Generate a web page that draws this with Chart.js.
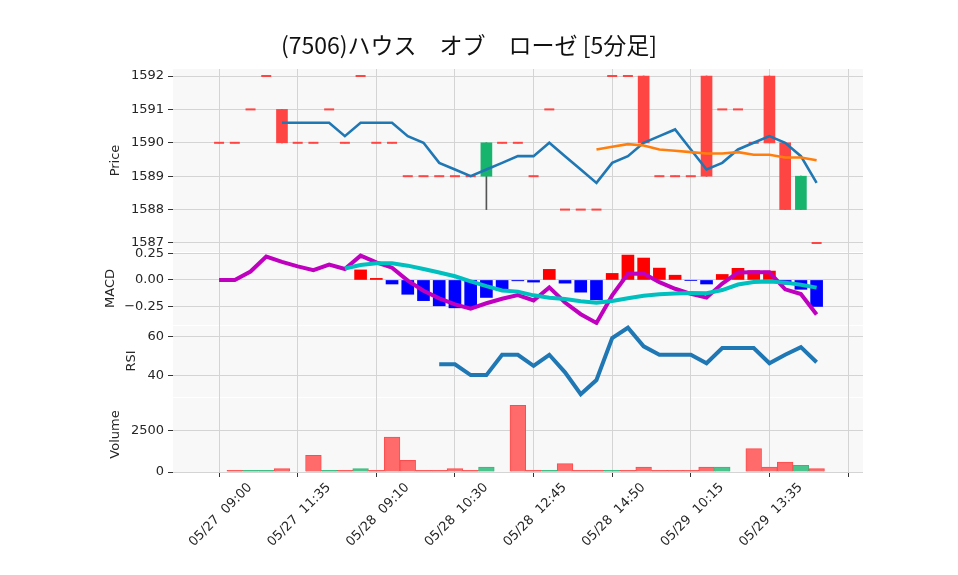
<!DOCTYPE html>
<html>
<head>
<meta charset="utf-8">
<script src="https://cdn.jsdelivr.net/npm/chart.js@4"></script>
<style>
  html, body { margin: 0; padding: 0; background: #fff; }
  #wrap { width: 958px; height: 575px; }
</style>
</head>
<body>
<div id="wrap"><canvas id="chart" width="958" height="575"></canvas></div>
<script>
const chartTitle = '(7506)ハウス　オブ　ローゼ [5分足]';

// x ticks (bar index) and their labels
const tickPositions = [0, 5, 10, 15, 20, 25, 30, 35, 40];
const tickLabels = ['05/27  09:00', '05/27  11:35', '05/28  09:10', '05/28  10:30',
  '05/28  12:45', '05/28  14:50', '05/29  10:15', '05/29  13:35', ''];

// 5-minute candles
const opens = [1590, 1590, 1591, 1592, 1591, 1590, 1590, 1591, 1590, 1592,
  1590, 1590, 1589, 1589, 1589, 1589, 1589, 1589, 1590, 1590,
  1589, 1591, 1588, 1588, 1588, 1592, 1592, 1592, 1589, 1589,
  1589, 1592, 1591, 1591, 1590, 1592, 1590, 1588, 1587];
const highs = [1590, 1590, 1591, 1592, 1591, 1590, 1590, 1591, 1590, 1592,
  1590, 1590, 1589, 1589, 1589, 1589, 1589, 1590, 1590, 1590,
  1589, 1591, 1588, 1588, 1588, 1592, 1592, 1592, 1589, 1589,
  1589, 1592, 1591, 1591, 1590, 1592, 1590, 1589, 1587];
const lows = [1590, 1590, 1591, 1592, 1590, 1590, 1590, 1591, 1590, 1592,
  1590, 1590, 1589, 1589, 1589, 1589, 1589, 1588, 1590, 1590,
  1589, 1591, 1588, 1588, 1588, 1592, 1592, 1590, 1589, 1589,
  1589, 1589, 1591, 1591, 1590, 1590, 1588, 1588, 1587];
const closes = [1590, 1590, 1591, 1592, 1590, 1590, 1590, 1591, 1590, 1592,
  1590, 1590, 1589, 1589, 1589, 1589, 1589, 1590, 1590, 1590,
  1589, 1591, 1588, 1588, 1588, 1592, 1592, 1590, 1589, 1589,
  1589, 1589, 1591, 1591, 1590, 1590, 1588, 1589, 1587];
const volumes = [0, 100, 100, 100, 200, 0, 1000, 100, 100, 200,
  100, 2100, 700, 100, 100, 200, 100, 300, 0, 4000,
  100, 100, 500, 100, 100, 100, 100, 300, 100, 100,
  100, 300, 300, 0, 1400, 300, 600, 400, 200];

// moving averages on the price panel
const ma5 = [null, null, null, null, 1590.6, 1590.6, 1590.6, 1590.6, 1590.2, 1590.6,
  1590.6, 1590.6, 1590.2, 1590.0, 1589.4, 1589.2, 1589.0, 1589.2, 1589.4, 1589.6,
  1589.6, 1590.0, 1589.6, 1589.2, 1588.8, 1589.4, 1589.6, 1590.0, 1590.2, 1590.4,
  1589.8, 1589.2, 1589.4, 1589.8, 1590.0, 1590.2, 1590.0, 1589.6, 1588.8];
const ma25 = [null, null, null, null, null, null, null, null, null, null,
  null, null, null, null, null, null, null, null, null, null,
  null, null, null, null, 1589.80, 1589.88, 1589.96, 1589.92, 1589.80, 1589.76,
  1589.72, 1589.68, 1589.68, 1589.72, 1589.64, 1589.64, 1589.56, 1589.56, 1589.48];

// MACD panel
const macdLine = [0, 0, 0.080, 0.221, 0.170, 0.128, 0.093, 0.145, 0.104, 0.230,
  0.167, 0.116, -0.006, -0.101, -0.174, -0.230, -0.270, -0.220, -0.177, -0.142,
  -0.193, -0.070, -0.213, -0.323, -0.405, -0.146, 0.059, 0.060, -0.021, -0.083,
  -0.131, -0.167, -0.034, 0.070, 0.072, 0.072, -0.088, -0.133, -0.326];
const signalLine = [null, null, null, null, null, null, null, null, 0.109, 0.141,
  0.157, 0.157, 0.135, 0.103, 0.071, 0.035, -0.013, -0.058, -0.099, -0.110,
  -0.145, -0.167, -0.180, -0.200, -0.215, -0.198, -0.172, -0.148, -0.135, -0.127,
  -0.122, -0.125, -0.095, -0.043, -0.020, -0.015, -0.025, -0.045, -0.072];
const macdHist = [null, null, null, null, null, null, null, null, null, 0.095,
  0.015, -0.038, -0.135, -0.195, -0.244, -0.263, -0.262, -0.165, -0.082, -0.008,
  -0.020, 0.100, -0.030, -0.115, -0.187, 0.062, 0.235, 0.207, 0.112, 0.045,
  -0.003, -0.038, 0.052, 0.110, 0.088, 0.084, -0.040, -0.088, -0.250];

// RSI panel
const rsi = [null, null, null, null, null, null, null, null, null, null,
  null, null, null, null, 45.8, 45.8, 40.3, 40.3, 50.6, 50.6,
  45.0, 50.6, 41.7, 30.6, 37.8, 59.1, 64.3, 54.9, 50.6, 50.6,
  50.6, 46.3, 54.0, 54.0, 54.0, 46.3, 50.6, 54.5, 46.8];

// y tick values per panel
const priceTicks = [1587, 1588, 1589, 1590, 1591, 1592];
const macdTicks = [-0.25, 0, 0.25];
const rsiTicks = [40, 60];
const volumeTicks = [0, 2500];

const UP = '#16b46c';
const DOWN = '#ff4444';
const tickFont = { family: 'DejaVu Sans', size: 13 };
const gridColor = '#d4d4d4';

const pts = arr => arr.map((v, i) => ({ x: i, y: v }));
const setTicks = list => scale => { scale.ticks = list.map(v => ({ value: v })); };

const bodyIdx = opens.map((o, i) => i).filter(i => opens[i] !== closes[i]);
const dojiIdx = opens.map((o, i) => i).filter(i => opens[i] === closes[i]);

function yAxis(weight, stackWeight, min, max, list, fmt) {
  return {
    type: 'linear', position: 'left', stack: 'panels', stackWeight, weight,
    min, max,
    afterBuildTicks: setTicks(list),
    afterFit: s => { s.width = 60; },
    ticks: { font: tickFont, color: '#262626', padding: 4, callback: fmt },
    grid: { color: gridColor, tickLength: 5, tickColor: '#333' },
    border: { display: false }
  };
}

const panelBg = {
  id: 'panelBg',
  beforeDraw(chart) {
    const { ctx, chartArea } = chart;
    ctx.save();
    ctx.fillStyle = '#f8f8f8';
    ['yPrice', 'yMacd', 'yRsi', 'yVol'].forEach((id, k) => {
      const s = chart.scales[id];
      const top = k === 0 ? s.top : s.top + 1;
      ctx.fillRect(chartArea.left, top, chartArea.right - chartArea.left, s.bottom - top);
    });
    ctx.restore();
  }
};

const texts = {
  id: 'texts',
  afterDraw(chart) {
    const { ctx } = chart;
    ctx.save();
    ctx.fillStyle = '#111';
    ctx.textAlign = 'center';
    ctx.textBaseline = 'middle';
    ctx.font = '23px "Noto Sans CJK JP"';
    ctx.fillText(chartTitle, 469, 45);

    ctx.font = '13px "DejaVu Sans"';
    ctx.fillStyle = '#262626';
    [['yPrice', 'Price', 116], ['yMacd', 'MACD', 111], ['yRsi', 'RSI', 132], ['yVol', 'Volume', 116]]
      .forEach(([id, label, x]) => {
        const s = chart.scales[id];
        ctx.save();
        ctx.translate(x, (s.top + s.bottom) / 2);
        ctx.rotate(-Math.PI / 2);
        ctx.fillText(label, 0, 0);
        ctx.restore();
      });
    ctx.restore();
  }
};

new Chart(document.getElementById('chart'), {
  data: {
    datasets: [
      // price panel
      {
        type: 'bar', yAxisID: 'yPrice', grouped: false, order: 10,
        data: lows.map((l, i) => ({ x: i, y: [l, highs[i]] })),
        backgroundColor: '#555', barThickness: 1
      },
      {
        type: 'bar', yAxisID: 'yPrice', grouped: false, order: 9,
        data: bodyIdx.map(i => ({ x: i, y: [opens[i], closes[i]] })),
        backgroundColor: bodyIdx.map(i => closes[i] > opens[i] ? UP : DOWN),
        barThickness: 11
      },
      {
        type: 'line', yAxisID: 'yPrice', order: 8, showLine: false,
        data: dojiIdx.map(i => ({ x: i, y: closes[i] })),
        pointStyle: 'line', pointRadius: 5, pointBorderWidth: 2,
        pointBorderColor: DOWN, pointBackgroundColor: DOWN
      },
      {
        type: 'line', yAxisID: 'yPrice', order: 2, data: pts(ma5),
        borderColor: '#1f77b4', borderWidth: 2.6, pointRadius: 0
      },
      {
        type: 'line', yAxisID: 'yPrice', order: 1, data: pts(ma25),
        borderColor: '#ff7f0e', borderWidth: 2.6, pointRadius: 0
      },
      // MACD panel
      {
        type: 'bar', yAxisID: 'yMacd', grouped: false, order: 7,
        data: pts(macdHist),
        backgroundColor: macdHist.map(v => v >= 0 ? '#ff0000' : '#0000ff'),
        barThickness: 12
      },
      {
        type: 'line', yAxisID: 'yMacd', order: 4, data: pts(macdLine),
        borderColor: '#bf00bf', borderWidth: 4, pointRadius: 0
      },
      {
        type: 'line', yAxisID: 'yMacd', order: 3, data: pts(signalLine),
        borderColor: '#00bfbf', borderWidth: 4, pointRadius: 0
      },
      // RSI panel
      {
        type: 'line', yAxisID: 'yRsi', order: 3, data: pts(rsi),
        borderColor: '#1f77b4', borderWidth: 4, pointRadius: 0
      },
      // volume panel
      {
        type: 'bar', yAxisID: 'yVol', grouped: false, order: 6,
        data: pts(volumes),
        backgroundColor: volumes.map((v, i) => i > 0 && closes[i] > closes[i - 1] ? '#4cc48e' : '#ff6b6b'),
        borderColor: volumes.map((v, i) => i > 0 && closes[i] > closes[i - 1] ? '#35b97c' : '#ff4b4b'),
        borderWidth: 1, barThickness: 15.7
      }
    ]
  },
  options: {
    responsive: false,
    animation: false,
    events: [],
    layout: { padding: { left: 113, right: 95, top: 69, bottom: 23 } },
    plugins: { legend: { display: false }, tooltip: { enabled: false }, title: { display: false } },
    scales: {
      x: {
        type: 'linear', min: -2.93, max: 40.95, offset: false,
        afterBuildTicks: setTicks(tickPositions),
        afterFit: s => { s.height = 80; },
        ticks: {
          font: tickFont, color: '#262626', autoSkip: false,
          minRotation: 45, maxRotation: 45, labelOffset: 31, padding: 3,
          callback: (v, i) => tickLabels[i]
        },
        grid: { offset: false, color: gridColor, tickLength: 5, tickColor: '#333' },
        border: { display: false }
      },
      yVol: yAxis(1, 75, 0, 4500, volumeTicks, v => String(v)),
      yRsi: yAxis(2, 72, 29.2, 65.7, rsiTicks, v => String(v)),
      yMacd: yAxis(3, 73, -0.425, 0.264, macdTicks, v => (v < 0 ? '\u2212' : '') + Math.abs(v).toFixed(2)),
      yPrice: yAxis(4, 183, 1586.73, 1592.21, priceTicks, v => String(v))
    }
  },
  plugins: [panelBg, texts]
});
</script>
</body>
</html>
